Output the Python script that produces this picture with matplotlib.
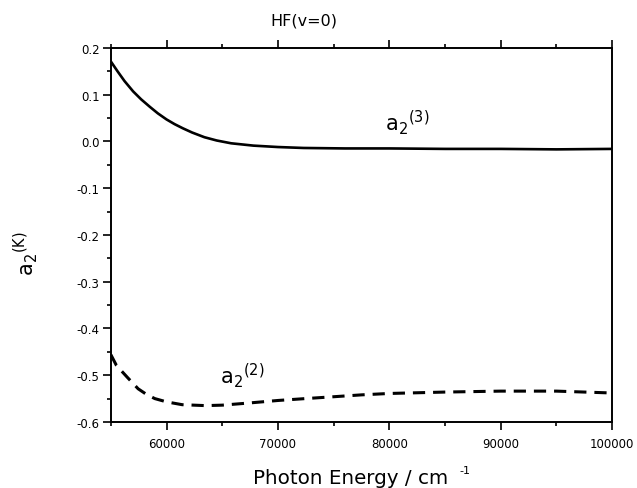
import matplotlib
matplotlib.use("Agg")
import matplotlib.pyplot as plt
from matplotlib.ticker import MultipleLocator

plt.rcParams["font.family"] = ["DejaVu Sans"]
plt.rcParams["mathtext.fontset"] = "dejavusans"

# a2(3), solid curve
energy_a3 = [55000, 55600, 56230, 57000, 57720, 58500, 59220, 60000, 60720, 61470,
             62300, 63400, 64500, 65800, 67800, 70000, 72300, 76000, 80000, 85000,
             90000, 95000, 100000]
a2_3 = [0.171, 0.150, 0.129, 0.107, 0.090, 0.074, 0.060, 0.047, 0.037, 0.028,
        0.019, 0.009, 0.002, -0.004, -0.009, -0.012, -0.014, -0.015, -0.015, -0.016,
        -0.016, -0.017, -0.016]

# a2(2), dashed curve
energy_a2 = [55000, 55500, 56500, 57450, 58200, 58950, 60000, 61400, 63500, 65000,
             67100, 70000, 72450, 75000, 77500, 80000, 85000, 90000, 95000, 100000]
a2_2 = [-0.456, -0.479, -0.505, -0.529, -0.541, -0.550, -0.557, -0.563, -0.565, -0.564,
        -0.560, -0.554, -0.550, -0.546, -0.542, -0.539, -0.536, -0.534, -0.534, -0.538]

x_ticks = [60000, 70000, 80000, 90000, 100000]
y_ticks = [0.2, 0.1, 0.0, -0.1, -0.2, -0.3, -0.4, -0.5, -0.6]

fig = plt.figure(figsize=(6.37, 4.89), dpi=100)
ax = fig.add_axes([0.174, 0.135, 0.787, 0.765])

ax.plot(energy_a3, a2_3, color="black", lw=1.9, solid_joinstyle="round")
ax.plot(energy_a2, a2_2, color="black", lw=2.2, dashes=(4, 2.6))

ax.set_xlim(55000, 100000)
ax.set_ylim(-0.6, 0.2)
ax.set_xticks(x_ticks)
ax.set_yticks(y_ticks)
ax.set_yticklabels([f"{v:.1f}" for v in y_ticks])
ax.xaxis.set_minor_locator(MultipleLocator(5000))
ax.yaxis.set_minor_locator(MultipleLocator(0.05))

for sp in ax.spines.values():
    sp.set_linewidth(1.4)

ax.tick_params(axis="both", which="major", direction="out", length=5.5, width=1.2, labelsize=8.5)
ax.tick_params(axis="both", which="minor", direction="out", length=2.7, width=1.2)
ax.tick_params(axis="x", top=True, which="both", pad=5)
ax.tick_params(axis="y", right=False, which="both", pad=2.5)

# axis labels, placed like the original figure
fig.text(351 / 637, 5 / 489, "Photon Energy / cm", ha="center", va="baseline", fontsize=14.3)
fig.text(465 / 637, 1 - 471 / 489, "-1", ha="center", va="center", fontsize=8)
fig.text(26 / 637, 1 - 254 / 489, r"$\mathregular{a_2{}^{(K)}}$", rotation=90,
         ha="center", va="center", fontsize=15)

ax.text(79600, 0.026, r"$\mathregular{a_2{}^{(3)}}$", fontsize=15, ha="left", va="baseline")
ax.text(64800, -0.515, r"$\mathregular{a_2{}^{(2)}}$", fontsize=15, ha="left", va="baseline")

fig.text(304 / 637, 1 - 25 / 489, "HF(v=0)", ha="center", va="baseline", fontsize=11.5)

fig.savefig("out.png", dpi=100)
